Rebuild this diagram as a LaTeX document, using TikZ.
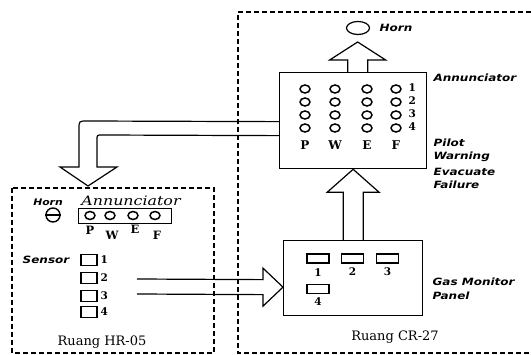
\documentclass[tikz,border=0pt]{standalone}
\usepackage{fontspec}
\setmainfont{DejaVu Serif}
\newfontfamily\lab{DejaVu Sans}[FakeStretch=1.2]
\usetikzlibrary{calc,shapes.geometric}
\begin{document}
\begin{tikzpicture}[x=1pt,y=-1pt,line width=1.2pt,
  box/.style={draw,rectangle,inner sep=0pt,anchor=north west,line width=1.3pt},
  lbl/.style={font=\lab\bfseries\itshape\fontsize{10}{12}\selectfont,inner sep=0pt},
  ser/.style={font=\bfseries\fontsize{12}{14}\selectfont,inner sep=0pt},
  num/.style={font=\bfseries\fontsize{10.5}{12}\selectfont,inner sep=0pt},
  ruang/.style={font=\fontsize{13}{15}\selectfont,inner sep=0pt},
  lamp/.style={draw,ellipse,minimum width=10pt,minimum height=8pt,inner sep=0pt,line width=1.5pt},
  sbox/.style={draw,rectangle,inner sep=0pt,line width=1.2pt},
  dbox/.style={dash pattern=on 5pt off 3pt,line width=1.3pt},
  fat/.style={line width=1.2pt,line join=miter}]
\useasboundingbox (0,0) rectangle (531,355);
% dashed rooms
\draw[dbox] (531,12) -- (238,12) -- (238,353) -- (531,353);
\draw[dbox] (12,188) rectangle (214,353);
% ---- Ruang CR-27
\node[box,minimum width=147pt,minimum height=96pt] (crann) at (279,72) {};
\node[draw,ellipse,minimum width=23pt,minimum height=13pt,inner sep=0pt] (horn) at (358,28) {};
\node[lbl,anchor=west] (hornl) at (379,28) {Horn};
\node[lbl,anchor=west] (annl) at (433,78) {Annunciator};
\foreach \c [count=\i] in {305,335,367,396}{
  \foreach \r [count=\j] in {89,102,115,128}{
    \node[lamp] (l\i\j) at (\c,\r) {};
  }
}
\foreach \r [count=\j] in {88,101,114,127}{
  \node[num,anchor=west] (n\j) at (408,\r) {\j};
}
\node[ser] (cp) at (305,145) {P};
\node[ser] (cw) at (335,145) {W};
\node[ser] (ce) at (367,145) {E};
\node[ser] (cf) at (396,145) {F};
\node[lbl,anchor=west] (pil) at (433,143) {Pilot};
\node[lbl,anchor=west] (war) at (433,157) {Warning};
\node[lbl,anchor=west] (eva) at (433,172) {Evacuate};
\node[lbl,anchor=west] (fai) at (433,185) {Failure};
\node[box,minimum width=139pt,minimum height=75pt] (gmp) at (283,240) {};
\node[sbox,minimum width=22pt,minimum height=9pt] (p1) at (318,258.5) {};
\node[sbox,minimum width=22pt,minimum height=9pt] (p2) at (352.5,258.5) {};
\node[sbox,minimum width=22pt,minimum height=9pt] (p3) at (387.5,258.5) {};
\node[sbox,minimum width=22pt,minimum height=9pt] (p4) at (318,289) {};
\node[num] (pl1) at (318,273) {1};
\node[num] (pl2) at (352.5,272) {2};
\node[num] (pl3) at (387.5,272) {3};
\node[num] (pl4) at (318,302) {4};
\node[lbl,anchor=west] (gml) at (432,282) {Gas Monitor};
\node[lbl,anchor=west] (pnl) at (432,296) {Panel};
\node[ruang] (rcr) at (395,337) {Ruang CR-27};
% ---- Ruang HR-05
\node[lbl,font=\lab\bfseries\itshape\fontsize{9}{11}\selectfont] (hhorn) at (48,202) {Horn};
\node[font=\itshape\fontsize{13}{15}\selectfont,inner sep=0pt] (hannl) at (131,201) {\scalebox{1.22}[1]{Annunciator}};
\node[draw,circle,minimum size=14pt,inner sep=0pt,line width=1.4pt] (hsym) at (53,215) {};
\draw[line width=1.4pt] (hsym.west) -- (hsym.east);
\node[box,minimum width=93pt,minimum height=15pt] (hann) at (78,208) {};
\foreach \c [count=\i] in {90,110,133,155}{
  \node[lamp] (hl\i) at (\c,215.5) {};
}
\node[ser,font=\bfseries\fontsize{11.5}{13}\selectfont] (hp) at (90,230) {P};
\node[ser,font=\bfseries\fontsize{11.5}{13}\selectfont] (hw) at (112,235) {W};
\node[ser,font=\bfseries\fontsize{11.5}{13}\selectfont] (he) at (135,229) {E};
\node[ser,font=\bfseries\fontsize{11.5}{13}\selectfont] (hf) at (157,235) {F};
\node[lbl] (sens) at (46,260) {Sensor};
\foreach \r [count=\j] in {260,278,296,312}{
  \node[sbox,minimum width=16pt,minimum height=11pt] (s\j) at (89,\r) {};
  \node[num,anchor=west] (sl\j) at (100,\r) {\j};
}
\node[ruang] (rhr) at (102,342) {Ruang HR-05};
% ---- fat arrows
\coordinate (a1) at ($(crann.north)+(4.5,0)$);
\draw[fat] ($(a1)+(-10,0)$) -- ($(a1)+(-10,-12)$) -- ($(a1)+(-28,-12)$) -- ($(a1)+(0,-30)$)
  -- ($(a1)+(28,-12)$) -- ($(a1)+(10,-12)$) -- ($(a1)+(10,0)$);
\draw[fat] ($(gmp.north)+(-10,0)$) -- ($(crann.south)+(-10,23)$) -- ($(crann.south)+(-26,23)$)
  -- (crann.south) -- ($(crann.south)+(26,23)$) -- ($(crann.south)+(10,23)$) -- ($(gmp.north)+(10,0)$);
\coordinate (t3) at (88,186);
\draw[fat] ($(crann.west)+(0,1)$) -- (87,121) .. controls (79,121) .. (79,129) -- (79,167)
  -- (60,167) -- (t3) -- (117,167) -- (97,167) -- (97,140) .. controls (97,135) .. (102,135)
  -- ($(crann.west)+(0,15)$);
\coordinate (t4) at ($(gmp.west)+(0,9)$);
\coordinate (w4a) at (137,279);
\coordinate (w4b) at (137,294);
\draw[fat] (w4a) -- ($(t4)+(-20,-7.5)$) -- ($(t4)+(-20,-19)$) -- (t4) -- ($(t4)+(-20,19)$)
  -- ($(t4)+(-20,7.5)$) -- (w4b);
\end{tikzpicture}
\end{document}
